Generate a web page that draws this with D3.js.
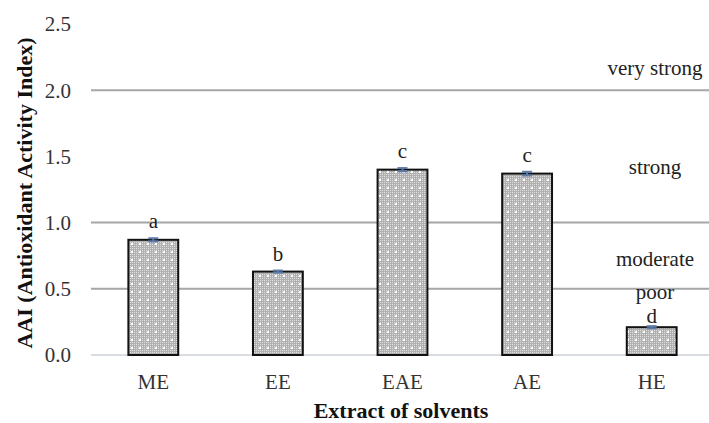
<!DOCTYPE html>
<html>
<head>
<meta charset="utf-8">
<script src="https://cdn.jsdelivr.net/npm/d3@7"></script>
<style>
  body { margin: 0; background: #fff; }
</style>
</head>
<body>
<div id="chart"></div>
<script>
var categories = ["ME", "EE", "EAE", "AE", "HE"];
var values = [0.87, 0.63, 1.40, 1.37, 0.21];
var errors = [0.012, 0.008, 0.012, 0.014, 0.008];
var letters = ["a", "b", "c", "c", "d"];
var yTicks = [0, 0.5, 1.0, 1.5, 2.0, 2.5];
var gridLines = [0.5, 1.0, 2.0];
var zones = [
  {label: "very strong", v: 2.17},
  {label: "strong", v: 1.42},
  {label: "moderate", v: 0.73},
  {label: "poor", v: 0.475}
];

var W = 709, H = 423;
var margin = {top: 24, right: 0, bottom: 68, left: 91};
var FONT = "'Times New Roman', 'Liberation Serif', 'DejaVu Serif', serif";

var svg = d3.select("#chart").append("svg")
  .attr("width", W).attr("height", H)
  .style("font-family", FONT);

// dotted fill like the original
var defs = svg.append("defs");
var pat = defs.append("pattern")
  .attr("id", "dots").attr("patternUnits", "userSpaceOnUse")
  .attr("width", 8).attr("height", 8);
pat.append("rect").attr("width", 8).attr("height", 8).attr("fill", "#b0b0b0");
[[0,0],[2,0],[4,0],[6,0],[0,2],[2,2],[4,2],[6,2],[0,4],[2,4],[4,4],[6,4],[0,6],[2,6],[4,6],[6,6]].forEach(function(p){
  pat.append("rect").attr("x", p[0]).attr("y", p[1]).attr("width", 1).attr("height", 1).attr("fill", "#e0e0e0");
});
pat.append("rect").attr("x", 3).attr("y", 3).attr("width", 2).attr("height", 2).attr("fill", "#fff");

var x = d3.scaleBand().domain(categories)
  .range([margin.left, margin.left + 5 * 124.6])
  .paddingInner(0.6).paddingOuter(0.3);
var y = d3.scaleLinear().domain([0, 2.5]).range([H - margin.bottom, margin.top]);

// gridlines
svg.selectAll("line.grid").data(gridLines).enter().append("line")
  .attr("class", "grid")
  .attr("x1", margin.left).attr("x2", W)
  .attr("y1", function(d){ return y(d); }).attr("y2", function(d){ return y(d); })
  .attr("stroke", "#a6a6a6").attr("stroke-width", 2);

// baseline
svg.append("line")
  .attr("x1", margin.left).attr("x2", W)
  .attr("y1", y(0)).attr("y2", y(0))
  .attr("stroke", "#d9dde3").attr("stroke-width", 2);

// y tick labels
svg.selectAll("text.ytick").data(yTicks).enter().append("text")
  .attr("class", "ytick")
  .attr("x", 71).attr("y", function(d){ return y(d); })
  .attr("dy", "0.35em").attr("text-anchor", "end")
  .attr("fill", "#333")
  .style("font-size", "21px")
  .text(function(d){ return d3.format(".1f")(d); });

// bars
svg.selectAll("rect.bar").data(values).enter().append("rect")
  .attr("class", "bar")
  .attr("x", function(d, i){ return x(categories[i]); })
  .attr("y", function(d){ return y(d); })
  .attr("width", x.bandwidth())
  .attr("height", function(d){ return y(0) - y(d); })
  .attr("fill", "url(#dots)")
  .attr("stroke", "#111").attr("stroke-width", 2);

// error bars
var eb = svg.selectAll("g.err").data(values).enter().append("g").attr("class", "err");
eb.append("line")
  .attr("x1", function(d, i){ return x(categories[i]) + x.bandwidth()/2; })
  .attr("x2", function(d, i){ return x(categories[i]) + x.bandwidth()/2; })
  .attr("y1", function(d, i){ return y(d + errors[i]); })
  .attr("y2", function(d, i){ return y(d - errors[i]); })
  .attr("stroke", "#5b7ba8").attr("stroke-width", 2);
[1, -1].forEach(function(s){
  eb.append("line")
    .attr("x1", function(d, i){ return x(categories[i]) + x.bandwidth()/2 - 5; })
    .attr("x2", function(d, i){ return x(categories[i]) + x.bandwidth()/2 + 5; })
    .attr("y1", function(d, i){ return y(d + s * errors[i]); })
    .attr("y2", function(d, i){ return y(d + s * errors[i]); })
    .attr("stroke", "#5b7ba8").attr("stroke-width", 2);
});

// significance letters (the last one sits tight on its bar, under "poor")
svg.selectAll("text.letter").data(values).enter().append("text")
  .attr("class", "letter")
  .attr("x", function(d, i){ return x(categories[i]) + x.bandwidth()/2; })
  .attr("y", function(d, i){ return y(d + errors[i]) - (i === 4 ? 3 : 10); })
  .attr("text-anchor", "middle")
  .attr("fill", "#222")
  .style("font-size", "21px")
  .text(function(d, i){ return letters[i]; });

// zone labels
svg.selectAll("text.zone").data(zones).enter().append("text")
  .attr("class", "zone")
  .attr("x", 655).attr("y", function(d){ return y(d.v); })
  .attr("dy", "0.35em").attr("text-anchor", "middle")
  .attr("fill", "#222")
  .style("font-size", "21px")
  .text(function(d){ return d.label; });

// x tick labels
svg.selectAll("text.xtick").data(categories).enter().append("text")
  .attr("class", "xtick")
  .attr("x", function(d){ return x(d) + x.bandwidth()/2; })
  .attr("y", 389)
  .attr("text-anchor", "middle")
  .attr("fill", "#333")
  .style("font-size", "21px")
  .text(function(d){ return d; });

// axis titles
svg.append("text")
  .attr("x", 401).attr("y", 418)
  .attr("text-anchor", "middle")
  .attr("fill", "#111")
  .style("font-size", "22px").style("font-weight", "bold")
  .text("Extract of solvents");

svg.append("text")
  .attr("transform", "translate(32,193) rotate(-90)")
  .attr("text-anchor", "middle")
  .attr("fill", "#111")
  .style("font-size", "22px").style("font-weight", "bold")
  .text("AAI (Antioxidant Activity Index)");
</script>
</body>
</html>
